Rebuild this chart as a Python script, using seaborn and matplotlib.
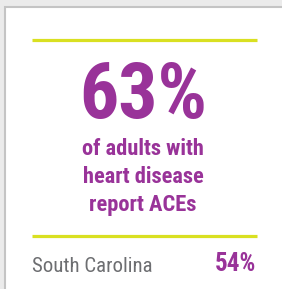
import matplotlib
matplotlib.use('Agg')
import matplotlib.pyplot as plt
import seaborn as sns
from matplotlib import font_manager
from matplotlib.patches import Rectangle

# ==============================================================================
# DATA
# ==============================================================================
headline_value = '63%'
headline_lines = ['of adults with', 'heart disease', 'report ACEs']
state_name = 'South Carolina'
state_value = '54%'

PURPLE = '#993399'
GREEN = '#d9e021'
GRAY_TEXT = '#6d6e71'

# pick a condensed face if there is one installed
installed = {f.name for f in font_manager.fontManager.ttflist}
condensed = [n for n in ['Roboto Condensed', 'Liberation Sans Narrow', 'DejaVu Sans Condensed'] if n in installed]
FAMILY = condensed + ['Roboto', 'DejaVu Sans']

sns.set_theme(style='white')
plt.rcParams['font.family'] = FAMILY

W, H = 282, 289
fig = plt.figure(figsize=(W / 100, H / 100), dpi=100)
fig.patch.set_facecolor('#ebebeb')
ax = fig.add_axes([0, 0, 1, 1])
ax.set_xlim(0, W)
ax.set_ylim(H, 0)
ax.axis('off')

# card
ax.add_patch(Rectangle((4.5, 6.5), W + 10, H + 10, facecolor='white',
                       edgecolor='#c4c4c4', linewidth=1.5))

# rules
for y in [39.5, 236]:
    ax.plot([32, 257], [y, y], color=GREEN, linewidth=2.3, solid_capstyle='butt')

cx = 143
ax.text(cx, 118, headline_value, ha='center', va='baseline', color=PURPLE,
        fontsize=56, fontweight='bold', fontstretch='condensed')
for i, line in enumerate(headline_lines):
    ax.text(cx, 155 + 28 * i, line, ha='center', va='baseline', color=PURPLE,
            fontsize=16.2, fontweight='bold', fontstretch='condensed')

ax.text(32, 272, state_name, ha='left', va='baseline', color=GRAY_TEXT,
        fontsize=15, fontstretch='condensed')
ax.text(256, 271, state_value, ha='right', va='baseline', color=PURPLE,
        fontsize=18, fontweight='bold', fontstretch='condensed')

fig.savefig('out.png', dpi=100, facecolor=fig.get_facecolor())
